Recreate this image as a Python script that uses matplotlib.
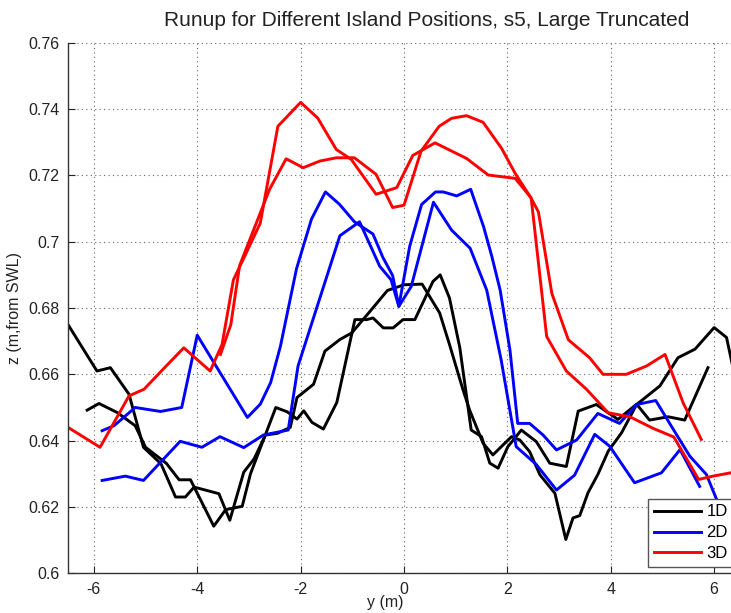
import matplotlib
matplotlib.use("Agg")
import matplotlib.pyplot as plt
from matplotlib.ticker import FuncFormatter

plt.rcParams['font.family'] = ['Liberation Sans', 'DejaVu Sans']
plt.rcParams['axes.unicode_minus'] = False

# ---------------- data ----------------
x_1d_a = [-6.5, -5.94, -5.68, -5.32, -5.04, -4.7, -4.42, -4.23, -4.06, -3.58, -3.37, -3.1, -2.9,
          -2.68, -2.45, -2.2, -2.07, -1.75, -1.53, -1.24, -1.01, -0.63, -0.32, 0.0, 0.35, 0.69,
          0.88, 1.14, 1.27, 1.53, 1.72, 2.08, 2.24, 2.43, 2.63, 2.92, 3.13, 3.27, 3.4, 3.56, 3.75,
          3.95, 4.21, 4.5, 4.95, 5.3, 5.63, 6.0, 6.24, 6.5]
z_1d_a = [0.675, 0.661, 0.662, 0.654, 0.638, 0.633, 0.623, 0.623, 0.626, 0.624, 0.616, 0.6305, 0.6345,
          0.6417, 0.6422, 0.644, 0.653, 0.657, 0.667, 0.6705, 0.6725, 0.6795, 0.6853, 0.687, 0.6872, 0.6785,
          0.669, 0.6554, 0.6492, 0.6392, 0.6357, 0.6412, 0.6402, 0.6367, 0.6297, 0.6241, 0.6102, 0.6167, 0.6174, 0.6243, 0.6298,
          0.6368, 0.6424, 0.6509, 0.6565, 0.665, 0.6676, 0.6741, 0.6711, 0.652]

x_1d_b = [-6.13, -5.9, -5.55, -5.2, -5.0, -4.6, -4.35, -4.13, -3.68, -3.45, -3.13, -2.97, -2.48, -2.26,
          -2.07, -1.94, -1.78, -1.56, -1.30, -0.95, -0.72, -0.6, -0.40, -0.21, -0.02, 0.21, 0.56, 0.70,
          0.88, 1.08, 1.30, 1.5, 1.66, 1.82, 2.01, 2.27, 2.56, 2.82, 3.14, 3.37, 3.72, 3.95, 4.14, 4.5,
          4.75, 5.11, 5.43, 5.88]
z_1d_b = [0.6492, 0.6512, 0.6485, 0.6445, 0.638, 0.6332, 0.6282, 0.6282, 0.6142, 0.6192, 0.6202, 0.630, 0.650, 0.6487,
          0.6465, 0.649, 0.6455, 0.6435, 0.6515, 0.6765, 0.6765, 0.677, 0.674, 0.674, 0.6765, 0.6765, 0.688, 0.690,
          0.683, 0.668, 0.6432, 0.6412, 0.6332, 0.6317, 0.6382, 0.6432, 0.6397, 0.6332, 0.6322, 0.6489, 0.6509, 0.6484, 0.6464, 0.651,
          0.6462, 0.6472, 0.6462, 0.662]

x_2d_a = [-5.84, -5.61, -5.2, -4.71, -4.3, -4.0, -3.03, -2.78, -2.58, -2.39, -2.08, -1.79, -1.52, -1.25,
          -0.96, -0.6, -0.41, -0.22, -0.1, 0.11, 0.34, 0.61, 0.76, 1.02, 1.29, 1.54, 1.7, 1.86, 2.05, 2.2,
          2.43, 2.69, 2.95, 3.34, 3.75, 4.17, 4.5, 4.87, 5.21, 5.53, 5.85, 6.05, 6.3]
z_2d_a = [0.643, 0.6445, 0.650, 0.6488, 0.650, 0.6718, 0.6470, 0.651, 0.6575, 0.6685, 0.6918, 0.7068, 0.715, 0.7113,
          0.706, 0.7023, 0.6953, 0.6898, 0.6805, 0.6986, 0.7112, 0.715, 0.715, 0.7138, 0.7158, 0.7045, 0.6955, 0.6854, 0.6673, 0.6452,
          0.6452, 0.6417, 0.6372, 0.6402, 0.6482, 0.6452, 0.6509, 0.6521, 0.6434, 0.6353, 0.6298, 0.6222, 0.612]

x_2d_b = [-5.84, -5.39, -5.04, -4.33, -3.91, -3.56, -3.1, -2.72, -2.24, -2.05, -1.24, -0.86, -0.47, -0.25,
          -0.1, 0.14, 0.57, 0.92, 1.28, 1.6, 1.88, 2.17, 2.56, 2.95, 3.3, 3.69, 3.98, 4.46, 4.98, 5.34, 5.72]
z_2d_b = [0.628, 0.6293, 0.628, 0.6398, 0.638, 0.6412, 0.6379, 0.6417, 0.6432, 0.6625, 0.7018, 0.706, 0.6926, 0.6885,
          0.6805, 0.6865, 0.7119, 0.7035, 0.698, 0.6854, 0.6643, 0.6382, 0.6328, 0.6251, 0.6296, 0.6419, 0.6383, 0.6273, 0.6303, 0.6373, 0.6262]

x_3d_a = [-6.5, -5.88, -5.32, -5.03, -4.65, -4.26, -3.75, -3.52, -3.3, -3.1, -2.78, -2.44, -2.0, -1.67,
          -1.31, -1.02, -0.54, -0.14, 0.17, 0.6, 1.21, 1.63, 2.15, 2.46, 2.76, 3.14, 3.53, 3.95, 4.37,
          4.82, 5.22, 5.7, 5.98, 6.32, 6.5]
z_3d_a = [0.644, 0.638, 0.6535, 0.6555, 0.6617, 0.668, 0.661, 0.669, 0.6885, 0.695, 0.7056, 0.7348, 0.742, 0.7373,
          0.7278, 0.7248, 0.7143, 0.7163, 0.726, 0.7298, 0.7251, 0.7201, 0.7191, 0.7132, 0.6714, 0.661, 0.6555, 0.6484, 0.6472,
          0.6437, 0.6411, 0.6283, 0.6293, 0.6303, 0.631]

x_3d_b = [-3.55, -3.35, -3.18, -2.6, -2.28, -1.95, -1.63, -1.31, -0.96, -0.54, -0.22, 0.0, 0.33, 0.68,
          0.92, 1.21, 1.53, 1.89, 2.15, 2.44, 2.6, 2.86, 3.18, 3.59, 3.85, 4.3, 4.69, 5.05, 5.4, 5.75]
z_3d_b = [0.666, 0.675, 0.6928, 0.7158, 0.725, 0.7223, 0.7243, 0.7253, 0.7253, 0.7203, 0.7103, 0.711, 0.7273, 0.7348,
          0.7372, 0.738, 0.736, 0.7281, 0.7206, 0.7136, 0.709, 0.6844, 0.6704, 0.665, 0.66, 0.66, 0.6625, 0.666, 0.6514, 0.6404]

x_ticks = [-6, -4, -2, 0, 2, 4, 6]
y_ticks = [0.6, 0.62, 0.64, 0.66, 0.68, 0.7, 0.72, 0.74, 0.76]
labels = ['1D', '2D', '3D']
colors = ['#000000', '#0000ff', '#ff0000']

# ---------------- figure ----------------
W, H = 731, 613
fig = plt.figure(figsize=(W / 100, H / 100), dpi=100)
fig.patch.set_facecolor('white')
ax = fig.add_axes([68 / W, (H - 573.3) / H, (740 - 68) / W, (573.3 - 42.7) / H])

lw = 2.1
ax.plot(x_1d_a, z_1d_a, color=colors[0], lw=lw, label=labels[0])
ax.plot(x_1d_b, z_1d_b, color=colors[0], lw=lw, label='_nolegend_')
ax.plot(x_2d_a, z_2d_a, color=colors[1], lw=lw, label=labels[1])
ax.plot(x_2d_b, z_2d_b, color=colors[1], lw=lw, label='_nolegend_')
ax.plot(x_3d_a, z_3d_a, color=colors[2], lw=lw, label=labels[2])
ax.plot(x_3d_b, z_3d_b, color=colors[2], lw=lw, label='_nolegend_')

ax.set_xlim(-6.5, 6.5)
ax.set_ylim(0.6, 0.76)
ax.set_xticks(x_ticks)
ax.set_yticks(y_ticks)
ax.yaxis.set_major_formatter(FuncFormatter(lambda v, p: ('%g' % round(v, 4))))
ax.tick_params(direction='in', length=5, width=0.8, labelsize=11.5, colors='#222222', pad=6)
ax.tick_params(axis='x', pad=6)

ax.grid(True, linestyle=(0, (1, 3)), color='#666666', linewidth=0.8)
for s in ['top', 'right']:
    ax.spines[s].set_visible(False)
for s in ['left', 'bottom']:
    ax.spines[s].set_color('#333333')
    ax.spines[s].set_linewidth(1.0)

fig.text(427 / W, 1 - 20 / H, 'Runup for Different Island Positions, s5, Large Truncated',
         fontsize=15, color='#222222', ha='center', va='center')
ax.set_xlabel('y (m)', fontsize=11.5, color='#222222')
ax.xaxis.set_label_coords((385 - 68) / (740 - 68), -0.040)
ax.set_ylabel('z (m,from SWL)', fontsize=11.5, color='#222222')
ax.yaxis.set_label_coords(-0.068, 0.5)

leg = ax.legend(loc='lower left', bbox_to_anchor=((648 - 68) / 672, (573.3 - 567) / 530.6),
                borderaxespad=0, fancybox=False, framealpha=1, edgecolor='#555555',
                fontsize=12, handlelength=2.8, handletextpad=0.35, labelspacing=0.35,
                borderpad=0.35)
leg.get_frame().set_linewidth(1.0)

fig.savefig('out.png', dpi=100)
